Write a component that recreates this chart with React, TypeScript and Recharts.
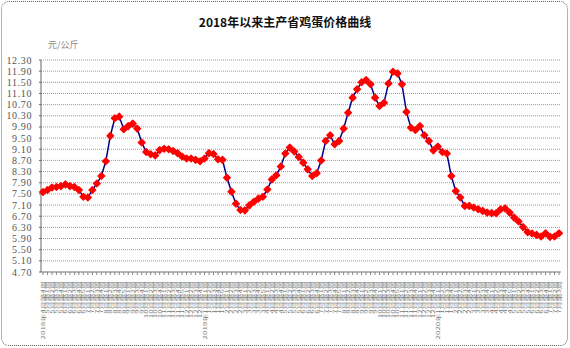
import React from 'react'
import { LineChart, Line, XAxis, YAxis, CartesianGrid } from 'recharts'

// [month label, first week, last week]
const monthWeeks: [string, number, number][] = [
  ['2018年4月', 4, 4],
  ['5月', 1, 4], ['6月', 1, 5], ['7月', 1, 4], ['8月', 1, 5], ['9月', 1, 4], ['10月', 1, 4], ['11月', 1, 5], ['12月', 1, 4],
  ['2019年1月', 1, 5], ['2月', 1, 4], ['3月', 1, 5], ['4月', 1, 4], ['5月', 1, 4], ['6月', 1, 4],
  ['7月', 1, 5], ['8月', 1, 4], ['9月', 1, 4], ['10月', 1, 5], ['11月', 1, 4], ['12月', 1, 4],
  ['2020年1月', 1, 4], ['2月', 1, 4], ['3月', 1, 4], ['4月', 1, 5], ['5月', 1, 4], ['6月', 1, 4], ['7月', 1, 3],
]

const prices = [
  7.57, 7.64, 7.73, 7.75, 7.78, 7.84, 7.78, 7.75, 7.64, 7.40,
  7.37, 7.64, 7.87, 8.14, 8.67, 9.58, 10.21, 10.27, 9.82, 9.93,
  10.02, 9.84, 9.34, 9.00, 8.92, 8.88, 9.07, 9.12, 9.10, 9.04,
  8.96, 8.84, 8.77, 8.77, 8.72, 8.67, 8.77, 8.96, 8.93, 8.74,
  8.72, 8.08, 7.58, 7.15, 6.92, 6.91, 7.09, 7.22, 7.33, 7.40,
  7.66, 8.02, 8.17, 8.48, 8.95, 9.16, 9.02, 8.82, 8.62, 8.38,
  8.14, 8.24, 8.70, 9.40, 9.60, 9.28, 9.40, 9.84, 10.41, 10.95,
  11.25, 11.50, 11.58, 11.43, 10.95, 10.65, 10.77, 11.46, 11.88, 11.82,
  11.43, 10.44, 9.87, 9.79, 9.93, 9.60, 9.40, 9.06, 9.20, 9.00,
  8.95, 8.14, 7.60, 7.37, 7.07, 7.07, 7.01, 6.95, 6.89, 6.83,
  6.81, 6.81, 6.95, 6.98, 6.83, 6.65, 6.51, 6.31, 6.13, 6.08,
  6.03, 5.97, 6.09, 5.96, 5.97, 6.09,
]

const yTicks = [
  4.7, 5.1, 5.5, 5.9, 6.3, 6.7, 7.1, 7.5, 7.9, 8.3,
  8.7, 9.1, 9.5, 9.9, 10.3, 10.7, 11.1, 11.5, 11.9, 12.3,
]

const weekLabels: string[] = []
monthWeeks.forEach(([m, from, to]) => {
  for (let w = from; w <= to; w++) {
    const name = w === from ? m : m.replace(/^\d+年/, '')
    weekLabels.push(`${name}第${w}周`)
  }
})

const data = prices.map((p, i) => ({ week: weekLabels[i], price: p }))

const WeekTick = (props: any) => {
  const { x, y, payload } = props
  return (
    <text
      transform={`translate(${x + 2},${y + 4}) rotate(-90) scale(1,0.6)`}
      textAnchor="end"
      fontSize={8}
      fill="#777"
      fontFamily="'Noto Sans CJK SC', sans-serif"
    >
      {payload.value}
    </text>
  )
}

const Diamond = (props: any) => {
  const { cx, cy } = props
  if (cx == null || cy == null) return null
  const r = 3.3
  return (
    <path
      d={`M${cx},${cy - r} L${cx + r},${cy} L${cx},${cy + r} L${cx - r},${cy} Z`}
      fill="#ff0000"
      stroke="#ff0000"
      strokeWidth={1.4}
      strokeLinejoin="round"
    />
  )
}

export default function App() {
  return (
    <div style={{ position: 'absolute', left: 0, top: 0, width: 570, height: 348, background: '#fff' }}>
      <div
        style={{
          position: 'absolute', left: 1, top: 1, width: 565, height: 343,
          border: '1px dotted #666', borderRadius: 8,
        }}
      />
      <div
        style={{
          position: 'absolute', left: 0, top: 13, width: 570, textAlign: 'center',
          fontFamily: "'Noto Sans CJK SC', sans-serif", fontWeight: 700, fontSize: 12, color: '#111',
        }}
      >
        2018年以来主产省鸡蛋价格曲线
      </div>
      <div
        style={{
          position: 'absolute', left: 48, top: 38,
          fontFamily: "'Noto Sans CJK SC', serif", fontSize: 9, color: '#888',
        }}
      >
        元/公斤
      </div>
      <div style={{ position: 'absolute', left: 0, top: 0 }}>
        <LineChart width={570} height={348} data={data} margin={{ top: 60, right: 9, bottom: 10, left: 6 }}>
          <CartesianGrid vertical={false} stroke="#999" strokeDasharray="1 1" />
          <XAxis
            dataKey="week"
            interval={0}
            tick={<WeekTick />}
            tickSize={3}
            height={66}
            padding={{ left: 2, right: 2 }}
            stroke="#888"
          />
          <YAxis
            domain={[4.7, 12.3]}
            ticks={yTicks}
            interval={0}
            tickFormatter={(v: number) => v.toFixed(2)}
            tick={{ fontSize: 10, fill: '#555', fontFamily: "'Liberation Serif', serif", letterSpacing: 0.6 }}
            tickSize={2}
            tickMargin={7}
            width={35}
            stroke="#666"
          />
          <Line
            type="linear"
            dataKey="price"
            stroke="#00008b"
            strokeWidth={1.5}
            dot={<Diamond />}
            activeDot={false}
            isAnimationActive={false}
          />
        </LineChart>
      </div>
    </div>
  )
}
